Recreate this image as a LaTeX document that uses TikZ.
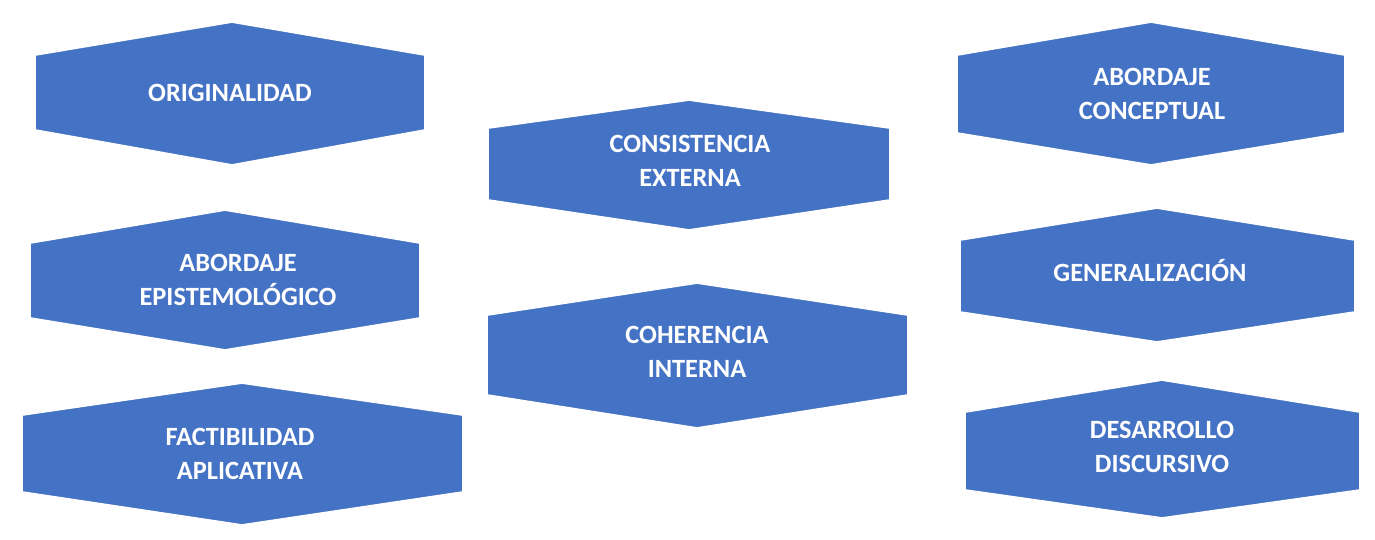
\documentclass[tikz,border=0pt]{standalone}
\usepackage{fontspec}
\setmainfont{Carlito}
\definecolor{hexblue}{HTML}{4472C4}
\tikzset{
  hexfill/.style={fill=hexblue, draw=white, line width=1pt},
  hexlabel/.style={text=white, font=\fontsize{15}{19}\selectfont\bfseries, align=center}
}
% name, left, right, top, side top, side bottom, bottom, text
\newcommand{\hexbox}[8]{%
  \filldraw [hexfill] (#2,#4) -- ({(#2+#3)/2},#3) -- (#3,#4) -- (#3,#5) --
    ({(#2+#3)/2},#6) -- (#2,#5) -- cycle;
}
\begin{document}
\begin{tikzpicture}[x=0.02cm, y=-0.02cm]

\path [use as bounding box] (0,0) rectangle (1375,539);

% LEFT COLUMN
\filldraw [hexfill] (35,55) -- (232,22) -- (425,55) -- (425,130) -- (232,165) -- (35,130) -- cycle;
\node [hexlabel] (orig) at (230,93) {ORIGINALIDAD};
\filldraw [hexfill] (30,243) -- (225,210) -- (420,243) -- (420,318) -- (225,350) -- (30,318) -- cycle;
\node [hexlabel] (epist) at (238,280) {ABORDAJE\\EPISTEMOLÓGICO};
\filldraw [hexfill] (22,415) -- (242,383) -- (463,415) -- (463,492) -- (242,525) -- (22,492) -- cycle;
\node [hexlabel] (fact) at (240,454) {FACTIBILIDAD\\APLICATIVA};

% MIDDLE COLUMN
\filldraw [hexfill] (488,128) -- (689,100) -- (890,128) -- (890,200) -- (689,230) -- (488,200) -- cycle;
\node [hexlabel] (consist) at (690,161) {CONSISTENCIA\\EXTERNA};
\filldraw [hexfill] (487,315) -- (697,283) -- (908,315) -- (908,395) -- (697,428) -- (487,395) -- cycle;
\node [hexlabel] (coher) at (697,352) {COHERENCIA\\INTERNA};

% RIGHT COLUMN
\filldraw [hexfill] (957,55) -- (1151,22) -- (1345,55) -- (1345,133) -- (1151,165) -- (957,133) -- cycle;
\node [hexlabel] (concep) at (1152,94) {ABORDAJE\\CONCEPTUAL};
\filldraw [hexfill] (960,240) -- (1157,208) -- (1355,240) -- (1355,312) -- (1157,342) -- (960,312) -- cycle;
\node [hexlabel] (gener) at (1150,271) {GENERALIZACIÓN};
\filldraw [hexfill] (965,412) -- (1162,380) -- (1360,412) -- (1360,490) -- (1162,518) -- (965,490) -- cycle;
\node [hexlabel] (desarr) at (1162,447) {DESARROLLO\\DISCURSIVO};

\end{tikzpicture}
\end{document}
